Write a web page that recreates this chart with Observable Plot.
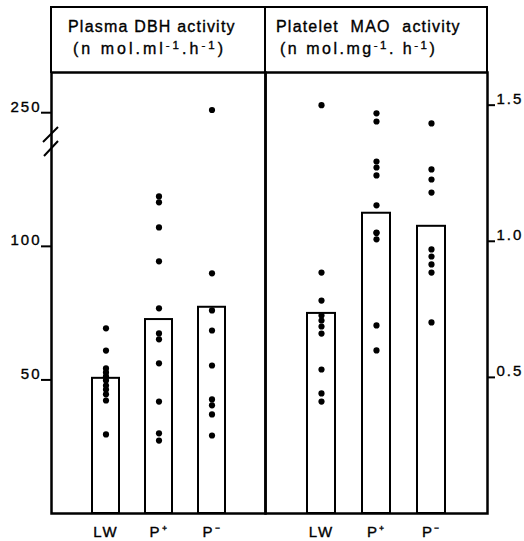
<!DOCTYPE html>
<html><head><meta charset="utf-8">
<script src="https://cdn.jsdelivr.net/npm/d3@7"></script>
<script src="https://cdn.jsdelivr.net/npm/@observablehq/plot@0.6"></script>
<style>
html,body{margin:0;padding:0;background:#fff;}
#chart{position:relative;width:524px;height:541px;overflow:hidden;font-family:"Liberation Sans",Arial,sans-serif;}
#chart svg{position:absolute;left:0;top:0;}
#chart svg text{stroke:#000;stroke-width:0.35px;}
.hdr{position:absolute;box-sizing:border-box;}
.t{position:absolute;font-size:16px;line-height:16px;white-space:nowrap;color:#000;-webkit-text-stroke:0.35px #000;}
.sup{font-size:0.72em;position:relative;top:-0.45em;}
</style></head><body>
<div id="chart">
  <div class="hdr" style="left:50px;top:6px;width:438px;height:67px;border:2.5px solid #000;border-bottom:none;"></div>
  <div class="hdr" style="left:263.75px;top:6px;width:2.5px;height:67px;background:#000;"></div>
  <div class="t" style="left:68px;top:19px;letter-spacing:1.2px;">Plasma DBH activity</div>
  <div class="t" style="left:73px;top:41px;letter-spacing:3px;">(n mol.ml<span class="sup">-1</span>.h<span class="sup">-1</span>)</div>
  <div class="t" style="left:276px;top:19px;letter-spacing:1.2px;word-spacing:6px;">Platelet MAO activity</div>
  <div class="t" style="left:280px;top:41px;letter-spacing:2.5px;">(n mol.mg<span class="sup">-1</span>. h<span class="sup">-1</span>)</div>
</div>
<script>
// ---- data ----
const groups = ["LW", "P+", "P-"];

// Plasma DBH activity (nmol.ml-1.h-1)
const dbhLW     = [69.3, 61.0, 54.3, 52.8, 51.3, 49.8, 47.9, 46.4, 44.6, 42.3, 29.6];
const dbhPplus  = [118.7, 116.5, 107.1, 94.4, 76.8, 67.4, 65.2, 56.2, 41.9, 30.0, 27.3];
const dbhPminus = [251, 89.9, 76.0, 68.5, 55.4, 42.7, 40.5, 37.1, 29.2];
const dbhMeans  = [50.6, 72.6, 77.2];
const dbhTicks  = [50, 100, 250];

// Platelet MAO activity (nmol.mg-1.h-1)
const maoLW     = [1.50, 0.885, 0.782, 0.727, 0.709, 0.687, 0.661, 0.529, 0.441, 0.411];
const maoPplus  = [1.470, 1.440, 1.293, 1.271, 1.242, 1.132, 1.032, 1.030, 1.007, 0.691, 0.599];
const maoPminus = [1.433, 1.264, 1.227, 1.179, 0.970, 0.944, 0.915, 0.885, 0.702];
const maoMeans  = [0.735, 1.103, 1.055];
const maoTicks  = [0.5, 1.0, 1.5];

// axis break on the DBH scale (values between these two are skipped)
const dbhBreak = [140, 240];

// ---- build tables ----
const tidy = cols => groups.flatMap((g, i) => cols[i].map(v => ({group: g, value: v})));
const means = m => groups.map((g, i) => ({group: g, mean: m[i]}));
const dbhPoints = tidy([dbhLW, dbhPplus, dbhPminus]);
const maoPoints = tidy([maoLW, maoPplus, maoPminus]);
const fmtGroup = d => d.replace("+", "\u207A").replace("-", "\u207B");

const baseStyle = {background: "transparent", fontFamily: "'Liberation Sans', Arial, sans-serif",
  fontSize: "15px", letterSpacing: "2px", color: "#000", overflow: "visible"};

const left = Plot.plot({
  width: 524, height: 541,
  marginLeft: 51, marginRight: 259, marginTop: 72, marginBottom: 28,
  style: baseStyle,
  x: {type: "band", domain: groups, paddingInner: 0.5, paddingOuter: 0.74, label: null},
  y: {type: "linear", domain: [0, dbhBreak[0], dbhBreak[1], 265], range: [513, 139, 139, 72], label: null},
  marks: [
    Plot.barY(means(dbhMeans), {x: "group", y: "mean", fill: "white", stroke: "black", strokeWidth: 2}),
    Plot.dot(dbhPoints, {x: "group", y: "value", r: 3.1, fill: "black", stroke: null}),
    Plot.frame({stroke: "black", strokeWidth: 2.5}),
    Plot.axisY({ticks: dbhTicks, anchor: "left", tickSize: 10, strokeWidth: 2, tickFormat: () => "", label: null}),
    Plot.axisY({ticks: dbhTicks, anchor: "left", tickSize: 0, tickPadding: 10, dy: -6, tickFormat: d => String(d), label: null}),
    Plot.axisX({tickSize: 0, tickPadding: 13, tickFormat: fmtGroup, label: null})
  ]
});

const right = Plot.plot({
  width: 524, height: 541,
  marginLeft: 265, marginRight: 37, marginTop: 72, marginBottom: 28,
  style: baseStyle,
  x: {type: "band", domain: groups, paddingInner: 0.5, paddingOuter: 0.75, label: null},
  y: {type: "linear", domain: [0, 1.62], range: [513, 72], label: null},
  marks: [
    Plot.barY(means(maoMeans), {x: "group", y: "mean", fill: "white", stroke: "black", strokeWidth: 2}),
    Plot.dot(maoPoints, {x: "group", y: "value", r: 3.1, fill: "black", stroke: null}),
    Plot.frame({stroke: "black", strokeWidth: 2.5}),
    Plot.axisY({ticks: maoTicks, anchor: "right", tickSize: 7, strokeWidth: 2, tickFormat: () => "", label: null}),
    Plot.axisY({ticks: maoTicks, anchor: "right", tickSize: 0, tickPadding: 9, dy: -6, tickFormat: d3.format(".1f"), label: null}),
    Plot.axisX({tickSize: 0, tickPadding: 13, tickFormat: fmtGroup, label: null})
  ]
});

// axis-break marks "//" on the DBH axis, placed with the plot's own scales
{
  const ys = left.scale("y"), xs = left.scale("x");
  const yb = ys.apply(dbhBreak[0]);
  const x0 = xs.range[0];
  const g = d3.select(left).append("g").attr("stroke", "black").attr("stroke-width", 2);
  [[-8, 3, 7, -12], [-7, 17, 7, 2]].forEach(([a, b, c, d]) => {
    g.append("line").attr("x1", x0 + a).attr("y1", yb + b).attr("x2", x0 + c).attr("y2", yb + d);
  });
}

const chart = document.getElementById("chart");
chart.appendChild(left);
chart.appendChild(right);
</script>
</body></html>
